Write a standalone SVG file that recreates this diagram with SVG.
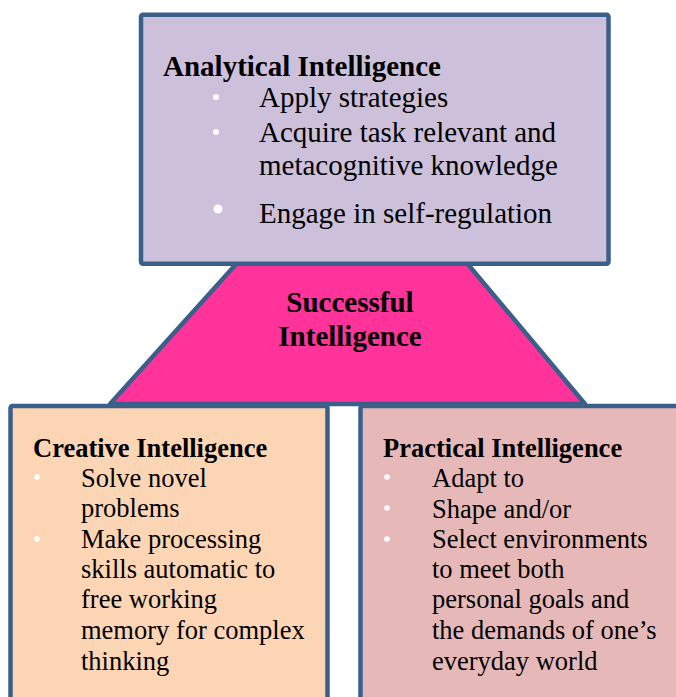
<svg xmlns="http://www.w3.org/2000/svg" width="676" height="697" viewBox="0 0 676 697">
<style>
.box{stroke:#3A5F8B;stroke-width:4.5;stroke-linejoin:round}
.t{font-family:"Liberation Serif","Times New Roman",serif;fill:#000}
.big{font-size:29px}
.sm{font-size:26.5px}
.b{font-weight:bold}
.dot{fill:#fff}
</style>
<rect width="676" height="697" fill="#fff"/>
<g id="connectors"></g>
<g id="successful">
<polygon class="box" points="238,262 466,262 585,404 110,404" fill="#FF3399"/>
<text class="t big b" x="350" y="312" text-anchor="middle">Successful</text>
<text class="t big b" x="350" y="346" text-anchor="middle">Intelligence</text>
</g>
<g id="analytical">
<rect class="box" x="141" y="14.7" width="467.5" height="249" rx="2" fill="#CCC0DA"/>
<text class="t big b" x="163" y="76">Analytical Intelligence</text>
<circle class="dot" cx="216" cy="97" r="3"/>
<circle class="dot" cx="216" cy="132" r="3"/>
<circle class="dot" cx="218" cy="209" r="4.5"/>
<text class="t big" x="259" y="107">Apply strategies</text>
<text class="t big" x="259" y="141.5">Acquire task relevant and</text>
<text class="t big" x="259" y="175">metacognitive knowledge</text>
<text class="t big" x="259" y="222.5">Engage in self-regulation</text>
</g>
<g id="creative">
<rect class="box" x="10.5" y="406" width="317" height="320" rx="2" fill="#FCD5B5"/>
<text class="t sm b" x="33" y="457">Creative Intelligence</text>
<circle class="dot" cx="37" cy="477" r="2.8"/>
<circle class="dot" cx="37" cy="539" r="2.8"/>
<text class="t sm" x="81" y="487">Solve novel</text>
<text class="t sm" x="81" y="517">problems</text>
<text class="t sm" x="81" y="548">Make processing</text>
<text class="t sm" x="81" y="578">skills automatic to</text>
<text class="t sm" x="81" y="608">free working</text>
<text class="t sm" x="81" y="639">memory for complex</text>
<text class="t sm" x="81" y="670">thinking</text>
</g>
<g id="practical">
<rect class="box" x="360.5" y="406" width="340" height="320" rx="2" fill="#E6B9B8"/>
<text class="t sm b" x="383" y="457">Practical Intelligence</text>
<circle class="dot" cx="387" cy="477" r="2.8"/>
<circle class="dot" cx="387" cy="508" r="2.8"/>
<circle class="dot" cx="387" cy="539" r="2.8"/>
<text class="t sm" x="432" y="487">Adapt to</text>
<text class="t sm" x="432" y="518">Shape and/or</text>
<text class="t sm" x="432" y="548">Select environments</text>
<text class="t sm" x="432" y="578">to meet both</text>
<text class="t sm" x="432" y="608">personal goals and</text>
<text class="t sm" x="432" y="639">the demands of one’s</text>
<text class="t sm" x="432" y="670">everyday world</text>
</g>
</svg>
